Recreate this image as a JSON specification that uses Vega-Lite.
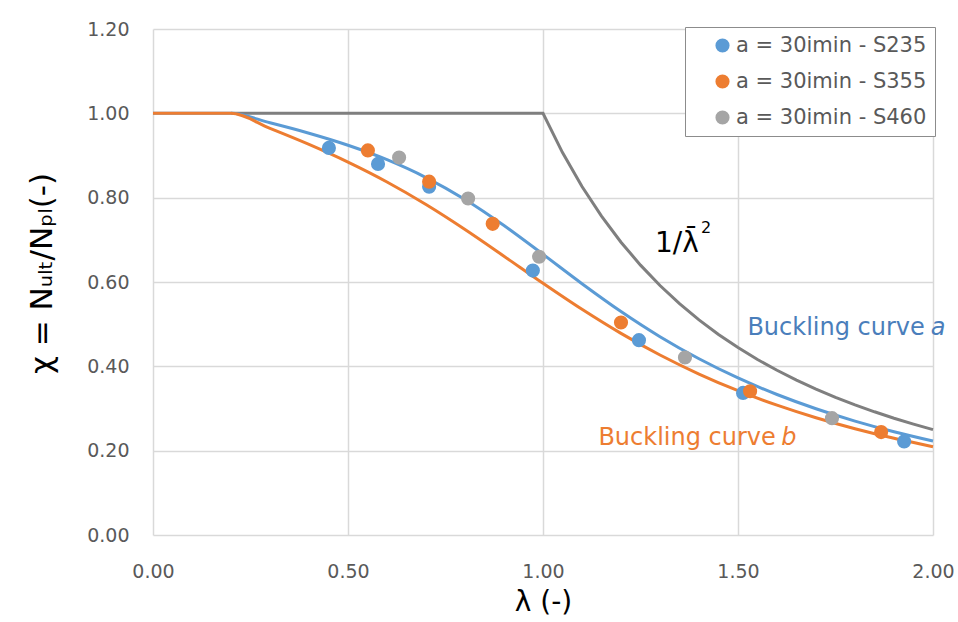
{
  "$schema": "https://vega.github.io/schema/vega-lite/v6.json",
  "width": 780,
  "height": 506,
  "autosize": {"type": "none"},
  "padding": {"left": 153, "top": 29, "right": 25, "bottom": 87},
  "background": "white",
  "config": {
    "view": {"stroke": null},
    "font": "DejaVu Sans",
    "axis": {
      "gridColor": "#d9d9d9",
      "gridWidth": 1.5,
      "domain": false,
      "ticks": false,
      "labelFont": "DejaVu Sans",
      "labelFontSize": 19,
      "labelColor": "#595959",
      "labelFlush": false,
      "titleFont": "DejaVu Sans",
      "titleFontSize": 26,
      "titleFontWeight": "normal",
      "titleColor": "#000000"
    }
  },
  "datasets": {
    "curves": [
      {"lam": 0.0, "chi": 1.0, "curve": "a"},
      {"lam": 0.2, "chi": 1.0, "curve": "a"},
      {"lam": 0.3, "chi": 0.9775, "curve": "a"},
      {"lam": 0.4, "chi": 0.9528, "curve": "a"},
      {"lam": 0.5, "chi": 0.9243, "curve": "a"},
      {"lam": 0.6, "chi": 0.89, "curve": "a"},
      {"lam": 0.7, "chi": 0.8477, "curve": "a"},
      {"lam": 0.8, "chi": 0.7957, "curve": "a"},
      {"lam": 0.9, "chi": 0.7339, "curve": "a"},
      {"lam": 1.0, "chi": 0.6656, "curve": "a"},
      {"lam": 1.1, "chi": 0.596, "curve": "a"},
      {"lam": 1.2, "chi": 0.53, "curve": "a"},
      {"lam": 1.3, "chi": 0.4703, "curve": "a"},
      {"lam": 1.4, "chi": 0.4179, "curve": "a"},
      {"lam": 1.5, "chi": 0.3724, "curve": "a"},
      {"lam": 1.6, "chi": 0.3332, "curve": "a"},
      {"lam": 1.7, "chi": 0.2994, "curve": "a"},
      {"lam": 1.8, "chi": 0.2702, "curve": "a"},
      {"lam": 1.9, "chi": 0.2449, "curve": "a"},
      {"lam": 2.0, "chi": 0.2229, "curve": "a"},
      {"lam": 0.0, "chi": 1.0, "curve": "b"},
      {"lam": 0.2, "chi": 1.0, "curve": "b"},
      {"lam": 0.3, "chi": 0.9641, "curve": "b"},
      {"lam": 0.4, "chi": 0.9261, "curve": "b"},
      {"lam": 0.5, "chi": 0.8842, "curve": "b"},
      {"lam": 0.6, "chi": 0.8371, "curve": "b"},
      {"lam": 0.7, "chi": 0.7837, "curve": "b"},
      {"lam": 0.8, "chi": 0.7245, "curve": "b"},
      {"lam": 0.9, "chi": 0.6612, "curve": "b"},
      {"lam": 1.0, "chi": 0.597, "curve": "b"},
      {"lam": 1.1, "chi": 0.5352, "curve": "b"},
      {"lam": 1.2, "chi": 0.4781, "curve": "b"},
      {"lam": 1.3, "chi": 0.4269, "curve": "b"},
      {"lam": 1.4, "chi": 0.3817, "curve": "b"},
      {"lam": 1.5, "chi": 0.3422, "curve": "b"},
      {"lam": 1.6, "chi": 0.3079, "curve": "b"},
      {"lam": 1.7, "chi": 0.2781, "curve": "b"},
      {"lam": 1.8, "chi": 0.2521, "curve": "b"},
      {"lam": 1.9, "chi": 0.2294, "curve": "b"},
      {"lam": 2.0, "chi": 0.2095, "curve": "b"},
      {"lam": 0.2, "chi": 1.0, "curve": "euler"},
      {"lam": 1.0, "chi": 1.0, "curve": "euler"},
      {"lam": 1.05, "chi": 0.907, "curve": "euler"},
      {"lam": 1.1, "chi": 0.8264, "curve": "euler"},
      {"lam": 1.15, "chi": 0.7561, "curve": "euler"},
      {"lam": 1.2, "chi": 0.6944, "curve": "euler"},
      {"lam": 1.25, "chi": 0.64, "curve": "euler"},
      {"lam": 1.3, "chi": 0.5917, "curve": "euler"},
      {"lam": 1.35, "chi": 0.5487, "curve": "euler"},
      {"lam": 1.4, "chi": 0.5102, "curve": "euler"},
      {"lam": 1.45, "chi": 0.4756, "curve": "euler"},
      {"lam": 1.5, "chi": 0.4444, "curve": "euler"},
      {"lam": 1.55, "chi": 0.4162, "curve": "euler"},
      {"lam": 1.6, "chi": 0.3906, "curve": "euler"},
      {"lam": 1.65, "chi": 0.3673, "curve": "euler"},
      {"lam": 1.7, "chi": 0.346, "curve": "euler"},
      {"lam": 1.75, "chi": 0.3265, "curve": "euler"},
      {"lam": 1.8, "chi": 0.3086, "curve": "euler"},
      {"lam": 1.85, "chi": 0.2922, "curve": "euler"},
      {"lam": 1.9, "chi": 0.277, "curve": "euler"},
      {"lam": 1.95, "chi": 0.263, "curve": "euler"},
      {"lam": 2.0, "chi": 0.25, "curve": "euler"}
    ],
    "tests": [
      {"lam": 0.451, "chi": 0.918, "series": "a = 30imin - S235"},
      {"lam": 0.577, "chi": 0.880, "series": "a = 30imin - S235"},
      {"lam": 0.708, "chi": 0.826, "series": "a = 30imin - S235"},
      {"lam": 0.974, "chi": 0.627, "series": "a = 30imin - S235"},
      {"lam": 1.246, "chi": 0.462, "series": "a = 30imin - S235"},
      {"lam": 1.513, "chi": 0.337, "series": "a = 30imin - S235"},
      {"lam": 1.926, "chi": 0.222, "series": "a = 30imin - S235"},
      {"lam": 0.551, "chi": 0.912, "series": "a = 30imin - S355"},
      {"lam": 0.708, "chi": 0.838, "series": "a = 30imin - S355"},
      {"lam": 0.871, "chi": 0.738, "series": "a = 30imin - S355"},
      {"lam": 1.200, "chi": 0.504, "series": "a = 30imin - S355"},
      {"lam": 1.531, "chi": 0.341, "series": "a = 30imin - S355"},
      {"lam": 1.867, "chi": 0.244, "series": "a = 30imin - S355"},
      {"lam": 0.631, "chi": 0.895, "series": "a = 30imin - S460"},
      {"lam": 0.808, "chi": 0.798, "series": "a = 30imin - S460"},
      {"lam": 0.990, "chi": 0.660, "series": "a = 30imin - S460"},
      {"lam": 1.364, "chi": 0.421, "series": "a = 30imin - S460"},
      {"lam": 1.741, "chi": 0.277, "series": "a = 30imin - S460"}
    ],
    "labels": [
      {"lam": 1.287, "chi": 0.670, "txt": "1/λ̄", "kind": "euler"},
      {"lam": 1.405, "chi": 0.717, "txt": "2", "kind": "sup"},
      {"lam": 1.979, "chi": 0.475, "txt": "Buckling curve", "kind": "a"},
      {"lam": 1.994, "chi": 0.475, "txt": "a", "kind": "ai"},
      {"lam": 1.597, "chi": 0.213, "txt": "Buckling curve", "kind": "b"},
      {"lam": 1.611, "chi": 0.213, "txt": "b", "kind": "bi"}
    ]
  },
  "layer": [
    {
      "data": {"name": "curves"},
      "transform": [{"filter": "datum.curve === 'euler'"}],
      "mark": {"type": "line", "color": "#7f7f7f", "strokeWidth": 3, "interpolate": "linear"},
      "encoding": {
        "x": {"field": "lam", "type": "quantitative", "scale": {"domain": [0, 2]},
          "axis": {"values": [0, 0.5, 1, 1.5, 2], "format": ".2f", "title": "λ (-)", "labelPadding": 27, "titlePadding": 7, "titleFontSize": 28}},
        "y": {"field": "chi", "type": "quantitative", "scale": {"domain": [0, 1.2]},
          "axis": {"values": [0, 0.2, 0.4, 0.6, 0.8, 1.0, 1.2], "format": ".2f", "title": "χ = Nᵤₗₜ/Nₚₗ(-)", "labelPadding": 24, "titlePadding": 28, "titleFontSize": 31, "titleY": 244}}
      }
    },
    {
      "data": {"name": "curves"},
      "transform": [{"filter": "datum.curve === 'a'"}],
      "mark": {"type": "line", "color": "#5b9bd5", "strokeWidth": 3, "interpolate": "monotone"},
      "encoding": {
        "x": {"field": "lam", "type": "quantitative"},
        "y": {"field": "chi", "type": "quantitative"}
      }
    },
    {
      "data": {"name": "curves"},
      "transform": [{"filter": "datum.curve === 'b'"}],
      "mark": {"type": "line", "color": "#ed7d31", "strokeWidth": 3, "interpolate": "monotone"},
      "encoding": {
        "x": {"field": "lam", "type": "quantitative"},
        "y": {"field": "chi", "type": "quantitative"}
      }
    },
    {
      "data": {"name": "tests"},
      "mark": {"type": "circle", "size": 200, "opacity": 1},
      "encoding": {
        "x": {"field": "lam", "type": "quantitative"},
        "y": {"field": "chi", "type": "quantitative"},
        "order": {"field": "series"},
        "color": {
          "field": "series",
          "type": "nominal",
          "scale": {"domain": ["a = 30imin - S235", "a = 30imin - S355", "a = 30imin - S460"], "range": ["#5b9bd5", "#ed7d31", "#a5a5a5"]},
          "legend": {
            "title": null,
            "orient": "none",
            "legendX": 532,
            "legendY": -2,
            "fillColor": "white",
            "strokeColor": "#8c8c8c",
            "padding": 8,
            "symbolOffset": 19,
            "symbolType": "circle",
            "symbolSize": 200,
            "symbolStrokeWidth": 0,
            "symbolOpacity": 1,
            "labelFont": "DejaVu Sans",
            "labelFontSize": 21,
            "labelColor": "#595959",
            "labelOffset": 3,
            "labelLimit": 400,
            "rowPadding": 14
          }
        }
      }
    },
    {
      "data": {"name": "labels"},
      "transform": [{"filter": "datum.kind === 'euler'"}],
      "mark": {"type": "text", "align": "left", "baseline": "alphabetic", "fontSize": 28, "font": "DejaVu Sans", "color": "#000000"},
      "encoding": {
        "x": {"field": "lam", "type": "quantitative"},
        "y": {"field": "chi", "type": "quantitative"},
        "text": {"field": "txt"}
      }
    },
    {
      "data": {"name": "labels"},
      "transform": [{"filter": "datum.kind === 'sup'"}],
      "mark": {"type": "text", "align": "left", "baseline": "alphabetic", "fontSize": 16, "font": "DejaVu Sans", "color": "#000000"},
      "encoding": {
        "x": {"field": "lam", "type": "quantitative"},
        "y": {"field": "chi", "type": "quantitative"},
        "text": {"field": "txt"}
      }
    },
    {
      "data": {"name": "labels"},
      "transform": [{"filter": "datum.kind === 'a'"}],
      "mark": {"type": "text", "align": "right", "baseline": "alphabetic", "fontSize": 24, "font": "DejaVu Sans", "color": "#4a7ebb"},
      "encoding": {
        "x": {"field": "lam", "type": "quantitative"},
        "y": {"field": "chi", "type": "quantitative"},
        "text": {"field": "txt"}
      }
    },
    {
      "data": {"name": "labels"},
      "transform": [{"filter": "datum.kind === 'ai'"}],
      "mark": {"type": "text", "align": "left", "baseline": "alphabetic", "fontSize": 24, "font": "DejaVu Sans", "fontStyle": "italic", "color": "#4a7ebb"},
      "encoding": {
        "x": {"field": "lam", "type": "quantitative"},
        "y": {"field": "chi", "type": "quantitative"},
        "text": {"field": "txt"}
      }
    },
    {
      "data": {"name": "labels"},
      "transform": [{"filter": "datum.kind === 'b'"}],
      "mark": {"type": "text", "align": "right", "baseline": "alphabetic", "fontSize": 24, "font": "DejaVu Sans", "color": "#ed7d31"},
      "encoding": {
        "x": {"field": "lam", "type": "quantitative"},
        "y": {"field": "chi", "type": "quantitative"},
        "text": {"field": "txt"}
      }
    },
    {
      "data": {"name": "labels"},
      "transform": [{"filter": "datum.kind === 'bi'"}],
      "mark": {"type": "text", "align": "left", "baseline": "alphabetic", "fontSize": 24, "font": "DejaVu Sans", "fontStyle": "italic", "color": "#ed7d31"},
      "encoding": {
        "x": {"field": "lam", "type": "quantitative"},
        "y": {"field": "chi", "type": "quantitative"},
        "text": {"field": "txt"}
      }
    }
  ]
}
